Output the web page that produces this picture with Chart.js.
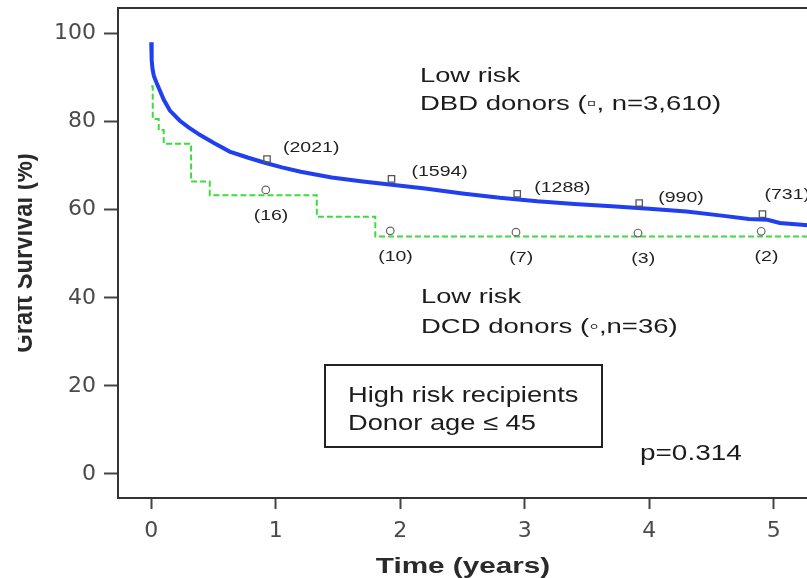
<!DOCTYPE html>
<html>
<head>
<meta charset="utf-8">
<script src="https://cdn.jsdelivr.net/npm/chart.js@4.4.1/dist/chart.umd.min.js"></script>
<style>
  html, body { margin: 0; padding: 0; background: #fff; overflow: hidden; }
  #wrap { width: 807px; height: 578px; overflow: hidden; }
</style>
</head>
<body>
<div id="wrap"><canvas id="survivalChart" width="830" height="578"></canvas></div>
<script>
// Graft survival, high risk recipients with donors aged <= 45
const yearTicks = [0, 1, 2, 3, 4, 5];
const survivalTicks = [0, 20, 40, 60, 80, 100];

// DBD donors, Kaplan-Meier estimate (years, %)
const dbdTimes = [0, 0.002, 0.005, 0.01, 0.02, 0.04, 0.07, 0.1, 0.15, 0.23, 0.3, 0.39, 0.5, 0.63, 0.78, 0.92, 1.05,
  1.2, 1.45, 1.7, 1.95, 2.2, 2.5, 2.8, 3.1, 3.4, 3.7, 4.0, 4.3, 4.6, 4.8, 4.95, 5.05, 5.3];
const dbdSurvival = [98, 96, 94, 92, 90.5, 89, 87, 85, 82.5, 80.2, 78.7, 77, 75.2, 73.2, 71.8, 70.6, 69.6,
  68.6, 67.3, 66.4, 65.6, 64.8, 63.7, 62.7, 61.9, 61.3, 60.8, 60.2, 59.6, 58.6, 57.9, 57.7, 57.0, 56.4];

// DCD donors, step curve (years, %)
const dcdTimes = [0, 0.012, 0.06, 0.1, 0.32, 0.47, 1.33, 1.8, 5.3];
const dcdSurvival = [88, 80.6, 78.1, 75.0, 66.4, 63.3, 58.4, 53.9, 53.9];

// yearly marks with numbers at risk
const markTimes = [0.93, 1.93, 2.94, 3.92, 4.91];
const dbdMarks = [71.5, 67.0, 63.6, 61.5, 59.0];
const dbdAtRisk = [2021, 1594, 1288, 990, 731];
const dcdMarks = [64.5, 55.2, 54.9, 54.7, 55.1];
const dcdAtRisk = [16, 10, 7, 3, 2];

const FONT = '"Liberation Sans", Arial, sans-serif';

function wideText(ctx, str, x, y, size, opts) {
  opts = opts || {};
  ctx.save();
  ctx.font = (opts.bold ? 'bold ' : '') + size + 'px ' + FONT;
  ctx.fillStyle = opts.color || '#1c1c1c';
  ctx.textAlign = opts.align || 'left';
  ctx.textBaseline = opts.baseline || 'alphabetic';
  ctx.translate(x, y);
  ctx.scale(opts.stretch || 1.25, 1);
  ctx.fillText(str, 0, 0);
  ctx.restore();
}

const annotations = {
  id: 'annotations',
  afterDatasetsDraw(chart) {
    const ctx = chart.ctx;
    const xs = chart.scales.x, ys = chart.scales.y;
    const area = chart.chartArea;

    // top edge of the frame
    ctx.save();
    ctx.strokeStyle = '#333';
    ctx.lineWidth = 2;
    ctx.beginPath();
    ctx.moveTo(area.left - 1, area.top);
    ctx.lineTo(area.right, area.top);
    ctx.stroke();
    ctx.restore();

    // numbers at risk
    const dbdShift = [[16, -11], [20, -7], [17, -6], [19, -5], [2, -19]];
    dbdAtRisk.forEach((n, i) => {
      const px = xs.getPixelForValue(markTimes[i]);
      const py = ys.getPixelForValue(dbdMarks[i]);
      wideText(ctx, '(' + n + ')', px + dbdShift[i][0], py + dbdShift[i][1], 15,
        { baseline: 'middle', stretch: 1.3, color: '#222' });
    });
    dcdAtRisk.forEach((n, i) => {
      const px = xs.getPixelForValue(markTimes[i]);
      const py = ys.getPixelForValue(dcdMarks[i]);
      wideText(ctx, '(' + n + ')', px + 4, py + 26, 15,
        { baseline: 'middle', align: 'center', stretch: 1.3, color: '#222' });
    });

    // group labels
    wideText(ctx, 'Low risk', 420, 82, 21, { stretch: 1.3 });
    wideText(ctx, 'DBD donors (\u25AB, n=3,610)', 420, 110, 21, { stretch: 1.31 });
    wideText(ctx, 'Low risk', 421, 303, 21, { stretch: 1.3 });
    wideText(ctx, 'DCD donors (\u25E6,n=36)', 421, 333, 21, { stretch: 1.31 });

    // subgroup box
    ctx.save();
    ctx.strokeStyle = '#222';
    ctx.lineWidth = 2;
    ctx.strokeRect(325, 365, 277, 82);
    ctx.restore();
    wideText(ctx, 'High risk recipients', 348, 402, 22, { stretch: 1.24 });
    wideText(ctx, 'Donor age \u2264 45', 348, 430, 22, { stretch: 1.24 });

    wideText(ctx, 'p=0.314', 640, 460, 22, { stretch: 1.27 });

    // axis titles
    wideText(ctx, 'Time (years)', 463, 573, 22, { bold: true, align: 'center', stretch: 1.35, color: '#2a2a2a' });

    ctx.save();
    ctx.beginPath();
    ctx.rect(18, 0, 60, chart.height);
    ctx.clip();
    ctx.translate(32, (area.top + area.bottom) / 2);
    ctx.rotate(-Math.PI / 2);
    ctx.scale(1.08, 1.27);
    ctx.font = 'bold 22px ' + FONT;
    ctx.fillStyle = '#2a2a2a';
    ctx.textAlign = 'center';
    ctx.textBaseline = 'alphabetic';
    ctx.fillText('Graft Survival (%)', 0, 0);
    ctx.restore();
  }
};

new Chart(document.getElementById('survivalChart'), {
  type: 'scatter',
  data: {
    datasets: [
      {
        label: 'DBD marks',
        data: markTimes.map((t, i) => ({ x: t, y: dbdMarks[i] })),
        pointStyle: 'rect',
        pointRadius: 4.5,
        borderColor: '#555',
        backgroundColor: 'rgba(255,255,255,0)',
        borderWidth: 1.3,
        order: 0
      },
      {
        label: 'DCD marks',
        data: markTimes.map((t, i) => ({ x: t - 0.01, y: dcdMarks[i] })),
        pointStyle: 'circle',
        pointRadius: 3.8,
        borderColor: '#666',
        backgroundColor: 'rgba(255,255,255,0)',
        borderWidth: 1.2,
        order: 0
      },
      {
        label: 'DBD donors',
        data: dbdTimes.map((t, i) => ({ x: t, y: dbdSurvival[i] })),
        showLine: true,
        pointRadius: 0,
        borderColor: '#2040f0',
        borderWidth: 4,
        tension: 0,
        order: 1
      },
      {
        label: 'DCD donors',
        data: dcdTimes.map((t, i) => ({ x: t, y: dcdSurvival[i] })),
        showLine: true,
        stepped: 'before',
        pointRadius: 0,
        borderColor: '#3ddc3d',
        borderWidth: 2,
        borderDash: [6, 3],
        order: 2
      }
    ]
  },
  options: {
    responsive: false,
    animation: false,
    devicePixelRatio: 1,
    layout: { padding: { top: 8, left: 0, right: 0, bottom: 0 } },
    plugins: { legend: { display: false }, tooltip: { enabled: false } },
    scales: {
      x: {
        type: 'linear',
        min: -0.267,
        max: 5.406,
        afterBuildTicks: s => { s.ticks = yearTicks.map(v => ({ value: v })); },
        afterFit: s => { s.height = 80; s.paddingLeft = 0; s.paddingRight = 0; },
        grid: { drawOnChartArea: false, drawTicks: true, tickLength: 11, tickWidth: 2, tickColor: '#444' },
        border: { display: true, color: '#333', width: 2 },
        ticks: { padding: 9, color: '#4a4a4a', maxRotation: 0, font: { family: 'DejaVu Sans', size: 22 } }
      },
      y: {
        type: 'linear',
        min: -5.45,
        max: 105.79,
        afterBuildTicks: s => { s.ticks = survivalTicks.map(v => ({ value: v })); },
        afterFit: s => { s.width = 118; s.paddingTop = 0; s.paddingBottom = 0; },
        grid: { drawOnChartArea: false, drawTicks: true, tickLength: 14, tickWidth: 2, tickColor: '#444' },
        border: { display: true, color: '#333', width: 2 },
        ticks: { padding: 8, color: '#4a4a4a', font: { family: 'DejaVu Sans', size: 22 } }
      }
    }
  },
  plugins: [annotations]
});
</script>
</body>
</html>
